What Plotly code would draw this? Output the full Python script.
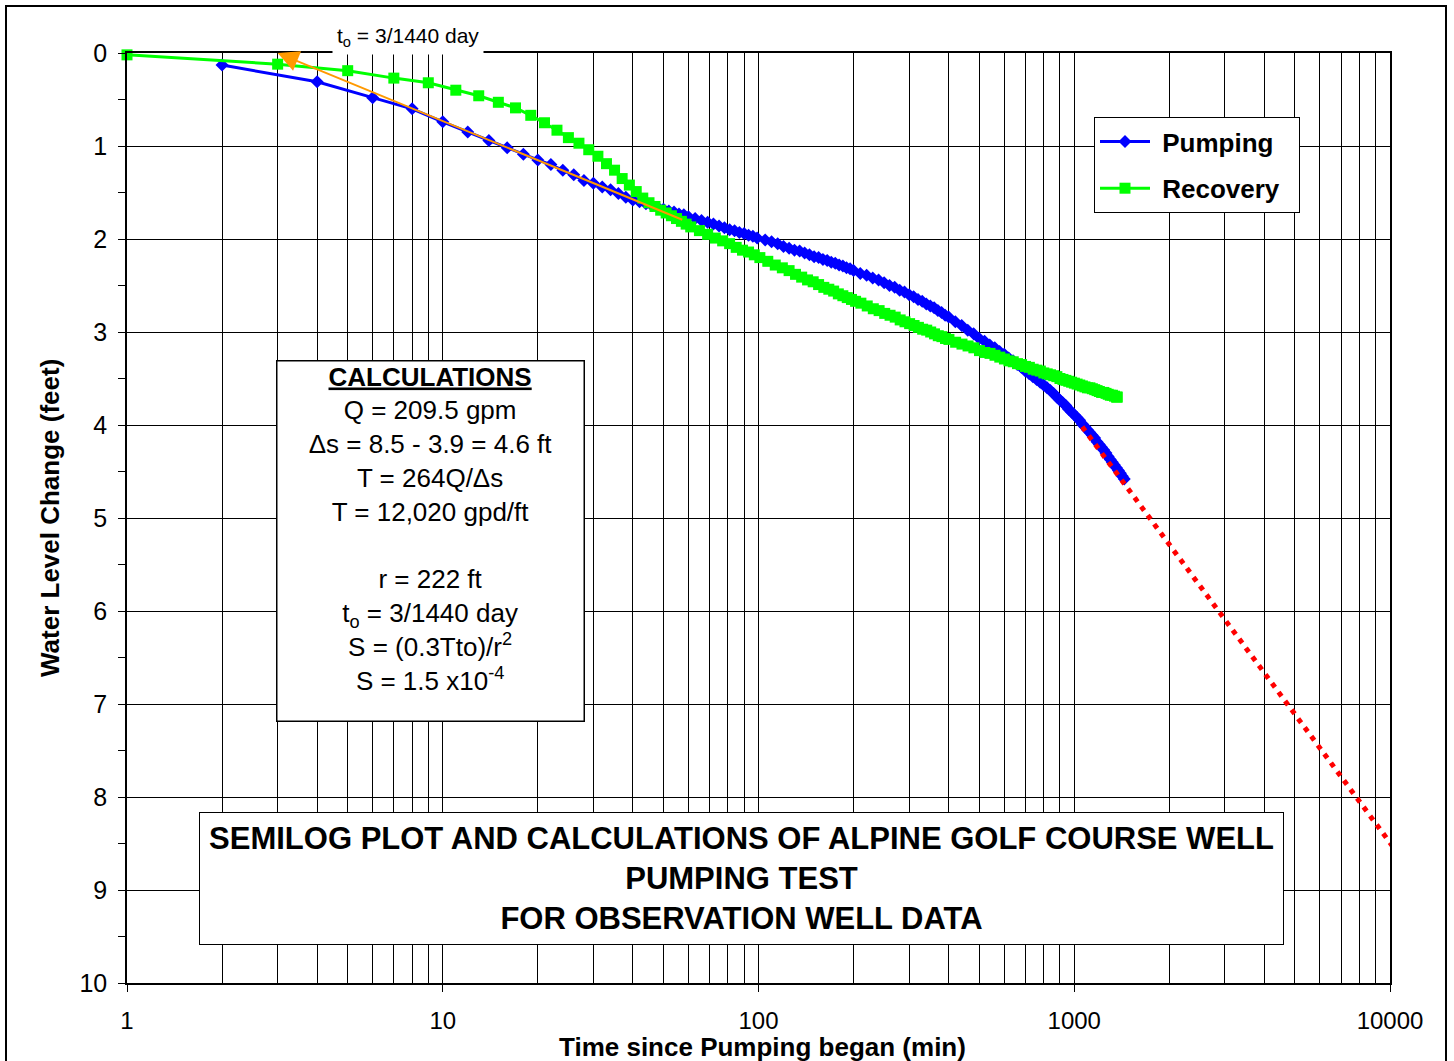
import math
import plotly.graph_objects as go

# ---------------- data ----------------
pump_t = [2, 4, 6, 8, 10, 12, 14, 16, 18, 20, 22, 24, 26, 28, 30, 32, 34, 36, 38, 40,
          42, 44, 46, 48, 50, 52, 54, 56, 58, 60,
          63, 66, 69, 72, 75, 78, 81, 84, 87, 90, 93, 96, 99,
          105, 110, 115, 120, 125, 130, 135, 140, 145, 150, 155, 160, 165, 170, 175, 180, 185, 190, 195, 200,
          210, 220, 230, 240, 250, 260, 270, 280, 290, 300, 310, 320, 330, 340, 350, 360, 370, 380, 390, 400,
          420, 440, 460, 480, 500, 520, 540, 560, 580, 600, 620, 640, 660, 680, 700, 720, 740, 760, 780, 800,
          820, 840, 860, 880, 900, 920, 940, 960, 980, 1000, 1020, 1040, 1060, 1080, 1100, 1120, 1140, 1160,
          1180, 1200, 1220, 1240, 1260, 1280, 1300, 1320, 1340, 1360, 1380, 1400, 1420, 1440]
pump_y = [0.13, 0.31, 0.48, 0.60, 0.74, 0.85, 0.94, 1.02, 1.09, 1.15, 1.20, 1.26, 1.31, 1.37, 1.40, 1.44, 1.47, 1.51, 1.55, 1.58,
          1.60, 1.62, 1.64, 1.66, 1.68, 1.70, 1.71, 1.73, 1.74, 1.76,
          1.78, 1.80, 1.82, 1.84, 1.86, 1.88, 1.90, 1.91, 1.93, 1.94, 1.96, 1.97, 1.99,
          2.01, 2.03, 2.05, 2.08, 2.10, 2.12, 2.13, 2.15, 2.17, 2.19, 2.20, 2.22, 2.23, 2.25, 2.26, 2.28, 2.29, 2.31, 2.32, 2.34,
          2.37, 2.39, 2.42, 2.44, 2.47, 2.50, 2.52, 2.55, 2.57, 2.60, 2.62, 2.65, 2.67, 2.70, 2.72, 2.74, 2.77, 2.79, 2.82, 2.84,
          2.89, 2.93, 2.98, 3.02, 3.07, 3.10, 3.14, 3.17, 3.21, 3.24, 3.28, 3.31, 3.35, 3.38, 3.42, 3.45, 3.48, 3.51, 3.54, 3.57,
          3.60, 3.63, 3.66, 3.70, 3.73, 3.76, 3.79, 3.83, 3.86, 3.89, 3.92, 3.95, 3.99, 4.02, 4.05, 4.08, 4.11, 4.14,
          4.18, 4.21, 4.24, 4.27, 4.30, 4.34, 4.37, 4.40, 4.43, 4.46, 4.49, 4.52, 4.55, 4.58]

rec_t = [1, 3, 5, 7, 9, 11, 13, 15, 17, 19, 21, 23, 25, 27, 29, 31, 33, 35, 37, 39, 41, 43, 45, 47,
         49, 51, 53, 55, 57, 59, 61,
         65, 69, 73, 77, 81, 85, 89, 93, 97, 101,
         107, 113, 119, 125, 131, 137, 143, 149, 155, 161, 167, 173, 179, 185, 191, 197, 203,
         211, 221, 231, 241, 251, 261, 271, 281, 291, 301, 311, 321, 331, 341, 351, 361, 371, 381, 391, 401,
         421, 441, 461, 481, 501, 521, 541, 561, 581, 601, 621, 641, 661, 681, 701, 721, 741, 761, 781, 801,
         821, 841, 861, 881, 901, 921, 941, 961, 981, 1001, 1021, 1041, 1061, 1081, 1101, 1121, 1141, 1161,
         1181, 1201, 1221, 1241, 1261, 1281, 1301, 1321, 1341, 1361, 1369]
rec_y = [0.02, 0.12, 0.19, 0.27, 0.32, 0.40, 0.46, 0.53, 0.59, 0.67, 0.75, 0.83, 0.91, 0.97, 1.04, 1.11, 1.19, 1.26, 1.35, 1.42, 1.49, 1.56, 1.61, 1.65,
         1.69, 1.72, 1.75, 1.78, 1.81, 1.84, 1.87,
         1.91, 1.95, 1.99, 2.02, 2.05, 2.09, 2.12, 2.14, 2.17, 2.20,
         2.24, 2.28, 2.31, 2.34, 2.38, 2.41, 2.44, 2.46, 2.49, 2.52, 2.54, 2.56, 2.59, 2.61, 2.63, 2.65, 2.67,
         2.69, 2.72, 2.75, 2.77, 2.80, 2.82, 2.84, 2.87, 2.89, 2.91, 2.93, 2.95, 2.97, 2.98, 3.00, 3.02, 3.04, 3.05, 3.07, 3.08,
         3.11, 3.13, 3.15, 3.17, 3.20, 3.22, 3.23, 3.25, 3.27, 3.29, 3.31, 3.32, 3.34, 3.35, 3.37, 3.38, 3.40, 3.41, 3.42, 3.44,
         3.45, 3.46, 3.47, 3.48, 3.50, 3.51, 3.52, 3.53, 3.54, 3.55, 3.56, 3.57, 3.58, 3.59, 3.60, 3.60, 3.61, 3.62,
         3.63, 3.64, 3.65, 3.65, 3.66, 3.67, 3.68, 3.68, 3.69, 3.70, 3.70]

# early straight-line fit (orange arrow) and late straight-line fit (red dotted)
fit_t = [3, 58]
fit_y = [0.0, 1.80]
late_t = [1060, 10400]
late_y = [4.02, 8.57]

x_tick_vals = [1, 10, 100, 1000, 10000]
x_tick_text = ["1", "10", "100", "1000", "10000"]
decades = [1, 10, 100, 1000]
minor_mult = [2, 3, 4, 5, 6, 7, 8, 9]
x_minor_vals = [m * d for d in decades for m in minor_mult]

calc_lines = [
    "<b><u>CALCULATIONS</u></b>",
    "Q = 209.5 gpm",
    "\u0394s = 8.5 - 3.9 = 4.6 ft",
    "T = 264Q/\u0394s",
    "T = 12,020 gpd/ft",
    "",
    "r = 222 ft",
    "t<sub>o</sub> = 3/1440 day",
    "S = (0.3Tto)/r<sup>2</sup>",
    "S = 1.5 x10<sup>-4</sup>",
]
title_lines = [
    "SEMILOG PLOT AND CALCULATIONS OF ALPINE GOLF COURSE WELL",
    "PUMPING TEST",
    "FOR OBSERVATION WELL DATA",
]

# ---------------- layout geometry ----------------
W, H = 1454, 1061
L, R, T, B = 127, 64, 53, 78
PW, PH = W - L - R, H - T - B
FONT = "Arial, Liberation Sans, sans-serif"
NB = "\u00a0"


def px(xp):
    return (xp - L) / PW


def py(yp):
    return (H - B - yp) / PH


fig = go.Figure()
fig.add_trace(go.Scatter(
    x=pump_t, y=pump_y, mode="lines+markers", name=NB + "Pumping" + NB + NB, legendgroup="p",
    line=dict(color="#0000FF", width=3),
    marker=dict(symbol="diamond", size=10, color="#0000FF"),
    cliponaxis=False))
fig.add_trace(go.Scatter(
    x=rec_t, y=rec_y, mode="lines+markers", name=NB + "Recovery" + NB + NB, legendgroup="r",
    line=dict(color="#00FF00", width=3),
    marker=dict(symbol="square", size=11, color="#00FF00"),
    cliponaxis=False))
fig.add_trace(go.Scatter(
    x=late_t, y=late_y, mode="lines", showlegend=False,
    line=dict(color="#FF0000", width=5, dash="5px,6px"),
    cliponaxis=False))

annotations = [
    dict(x=math.log10(fit_t[0]), y=fit_y[0], ax=math.log10(fit_t[1]), ay=fit_y[1],
         xref="x", yref="y", axref="x", ayref="y", text="", showarrow=True,
         arrowhead=2, arrowsize=2.1, arrowwidth=2, arrowcolor="#FF9900",
         standoff=0, startstandoff=0),
    dict(x=px(408), y=py(37), xref="paper", yref="paper", showarrow=False,
         text="t<sub>o</sub> = 3/1440 day", font=dict(family=FONT, size=21, color="black"),
         bgcolor="white", borderpad=4, xanchor="center", yanchor="middle"),
    dict(x=px(430), y=py(540.5), xref="paper", yref="paper", showarrow=False,
         text="<br>".join(calc_lines), font=dict(family=FONT, size=26, color="black"),
         align="center", valign="top", width=306, height=359, borderpad=0,
         bgcolor="white", bordercolor="black", borderwidth=1.5,
         xanchor="center", yanchor="middle"),
    dict(x=px(741.5), y=py(878.5), xref="paper", yref="paper", showarrow=False,
         text="<br>".join("<b>" + s + "</b>" for s in title_lines),
         font=dict(family=FONT, size=31, color="black"),
         align="center", valign="middle", width=1083, height=131, borderpad=0,
         bgcolor="white", bordercolor="black", borderwidth=1,
         xanchor="center", yanchor="middle"),
    dict(x=px(762), y=py(1047), xref="paper", yref="paper", showarrow=False,
         text="<b>Time since Pumping began (min)</b>", font=dict(family=FONT, size=26, color="black"),
         xanchor="center", yanchor="middle"),
    dict(x=px(50), y=py(518), xref="paper", yref="paper", showarrow=False, textangle=-90,
         text="<b>Water Level Change (feet)</b>", font=dict(family=FONT, size=26, color="black"),
         xanchor="center", yanchor="middle"),
]

fig.update_layout(
    width=W, height=H,
    margin=dict(l=L, r=R, t=T, b=B, autoexpand=False),
    paper_bgcolor="white", plot_bgcolor="white",
    font=dict(family=FONT, color="black"),
    showlegend=True,
    legend=dict(x=px(1094), y=py(117), xanchor="left", yanchor="top",
                bgcolor="white", bordercolor="black", borderwidth=1,
                font=dict(family=FONT, size=26, color="black", weight="bold"),
                tracegroupgap=10, itemwidth=50),
    annotations=annotations,
    shapes=[dict(type="rect", xref="paper", yref="paper",
                 x0=px(6), x1=px(1446), y0=py(1062), y1=py(6),
                 line=dict(color="black", width=2), fillcolor="rgba(0,0,0,0)", layer="below")],
)

fig.update_xaxes(
    type="log", range=[0, 4],
    tickmode="array", tickvals=x_tick_vals, ticktext=x_tick_text,
    ticks="outside", ticklen=7, tickcolor="black", tickwidth=1,
    tickfont=dict(family=FONT, size=24, color="black"),
    showgrid=True, gridcolor="black", gridwidth=1,
    minor=dict(tickmode="array", tickvals=x_minor_vals, showgrid=True,
               gridcolor="black", gridwidth=1, ticks="inside", ticklen=5, tickcolor="black"),
    showline=True, linecolor="black", linewidth=1.5, mirror=True,
    zeroline=False, ticklabelstandoff=8,
)
fig.update_yaxes(
    range=[10, 0], tickmode="linear", tick0=0, dtick=1,
    ticks="outside", ticklen=7, tickcolor="black", tickwidth=1,
    tickfont=dict(family=FONT, size=25, color="black"),
    showgrid=True, gridcolor="black", gridwidth=1,
    minor=dict(tickmode="linear", tick0=0, dtick=0.5, ticks="outside", ticklen=7,
               tickcolor="black", showgrid=False),
    showline=True, linecolor="black", linewidth=1.5, mirror=True,
    zeroline=False, ticklabelstandoff=6,
)

fig.write_html("out.html", config={"displayModeBar": False},
               post_script="document.body.style.margin='0';document.body.style.overflow='hidden';")
